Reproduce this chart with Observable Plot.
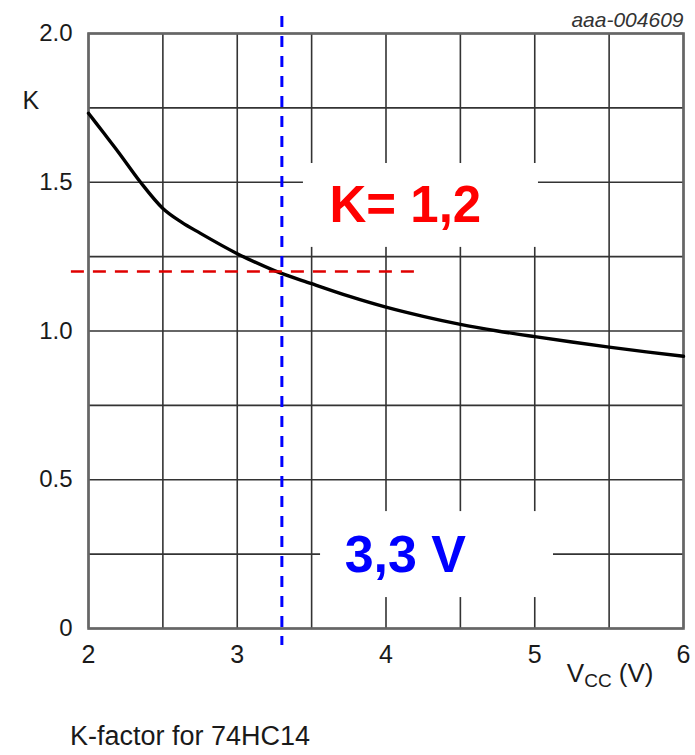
<!DOCTYPE html>
<html>
<head>
<meta charset="utf-8">
<script src="https://cdn.jsdelivr.net/npm/d3@7"></script>
<script src="https://cdn.jsdelivr.net/npm/@observablehq/plot@0.6"></script>
<style>
  html, body { margin: 0; padding: 0; background: #fff; }
  #wrap { position: relative; width: 695px; height: 755px; }
  #caption {
    position: absolute; left: 70px; top: 723px;
    font: 27px "Liberation Sans", Arial, sans-serif; line-height: 27px; color: #1a1a1a;
  }
</style>
</head>
<body>
<div id="wrap">
  <div id="chart"></div>
  <div id="caption"></div>
</div>
<script>
// K-factor curve versus supply voltage
const vcc = [2.0, 2.1, 2.2, 2.35, 2.5, 2.625, 2.75, 3.0, 3.25, 3.5, 3.75, 4.0, 4.25, 4.5, 4.75, 5.0, 5.25, 5.5, 5.75, 6.0];
const kFactor = [1.732, 1.667, 1.602, 1.5, 1.412, 1.366, 1.329, 1.26, 1.203, 1.159, 1.117, 1.08, 1.049, 1.022, 1.0, 0.981, 0.963, 0.946, 0.93, 0.915];

// Operating point annotations
const markedVcc = 3.3;
const markedK = 1.2;
const kNote = "K= 1,2";
const vccNote = "3,3 V";

// Axis ticks and labels
const xTicks = [2, 3, 4, 5, 6];
const xTickLabels = ["2", "3", "4", "5", "6"];
const yTicks = [0, 0.5, 1.0, 1.5, 2.0];
const yTickLabels = ["0", "0.5", "1.0", "1.5", "2.0"];
const xGrid = [2, 2.5, 3, 3.5, 4, 4.5, 5, 5.5, 6];
const yGrid = [0, 0.25, 0.5, 0.75, 1.0, 1.25, 1.5, 1.75, 2.0];
const yLabel = "K";
const xLabelMain = "V", xLabelSub = "CC", xLabelUnit = " (V)";
const figureId = "aaa-004609";
const captionText = "K-factor for 74HC14";

const curve = vcc.map((v, i) => ({vcc: v, k: kFactor[i]}));
const font = "'Liberation Sans', Arial, sans-serif";

const plot = Plot.plot({
  width: 695,
  height: 705,
  marginLeft: 88,
  marginRight: 12,
  marginTop: 33,
  marginBottom: 77,
  style: {fontFamily: font, fontSize: "24px", color: "#1a1a1a", background: "#fff"},
  x: {domain: [2, 6]},
  y: {domain: [0, 2]},
  marks: [
    Plot.gridX(xGrid, {stroke: "#333", strokeOpacity: 1, strokeWidth: 1.6}),
    Plot.gridY(yGrid, {stroke: "#333", strokeOpacity: 1, strokeWidth: 1.6}),
    Plot.frame({stroke: "#666", strokeWidth: 2.6}),
    Plot.axisX(xTicks, {
      tickSize: 0, tickPadding: 17, fontSize: 25,
      tickFormat: (d) => xTickLabels[xTicks.indexOf(d)], label: null
    }),
    Plot.axisY(yTicks, {
      tickSize: 0, tickPadding: 16, fontSize: 24,
      tickFormat: (d) => yTickLabels[yTicks.indexOf(d)], label: null
    }),
    Plot.line(curve, {x: "vcc", y: "k", stroke: "#000", strokeWidth: 3.4, curve: "monotone-x"}),
    // white label panels
    Plot.rect([kNote], {x1: 3.445, x2: 5.025, y1: 1.281, y2: 1.563, fill: "#fff"}),
    Plot.rect([vccNote], {x1: 3.56, x2: 5.126, y1: 0.104, y2: 0.393, fill: "#fff"}),
    Plot.text([kNote], {x: 4.13, y: 1.42, text: (d) => d, fill: "#ff0000", fontSize: 51, fontWeight: "bold"}),
    Plot.text([vccNote], {x: 4.13, y: 0.245, text: (d) => d, fill: "#0000ff", fontSize: 52, fontWeight: "bold"}),
    // guide lines through the operating point
    Plot.ruleY([markedK], {x1: 1.885, x2: 4.245, stroke: "#e00000", strokeWidth: 2.6, strokeDasharray: "13,9", clip: false}),
    Plot.ruleX([markedVcc], {y1: 2.057, y2: -0.057, stroke: "#0000ff", strokeWidth: 3, strokeDasharray: "11,9", clip: false}),
    Plot.text([yLabel], {frameAnchor: "top-left", dx: -66, dy: 58, textAnchor: "start", fontSize: 25, fill: "#1a1a1a"}),
    Plot.text([figureId], {frameAnchor: "top-right", dx: 0, dy: -21, textAnchor: "end", fontSize: 21, fontStyle: "italic", fill: "#333"}),
    Plot.text([xLabelMain + xLabelSub + xLabelUnit], {frameAnchor: "bottom-right", dx: -30, dy: 53, textAnchor: "end", fontSize: 26, fill: "#1a1a1a"})
  ]
});

// Rebuild the x-axis label with a subscript
d3.select(plot).selectAll("text")
  .filter(function () { return this.textContent === xLabelMain + xLabelSub + xLabelUnit; })
  .each(function () {
    const t = d3.select(this);
    t.text(null);
    t.append("tspan").text(xLabelMain);
    t.append("tspan").attr("font-size", 19).attr("dy", 5).text(xLabelSub);
    t.append("tspan").attr("dy", -5).text(xLabelUnit);
  });

document.getElementById("chart").appendChild(plot);
document.getElementById("caption").textContent = captionText;
</script>
</body>
</html>
